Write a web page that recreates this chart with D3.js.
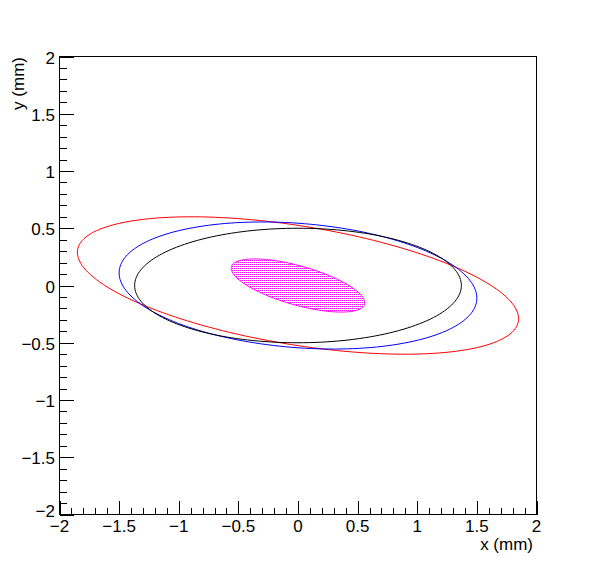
<!DOCTYPE html>
<html><head><meta charset="utf-8">
<script src="https://cdn.jsdelivr.net/npm/d3@7"></script>
<style>body{margin:0;background:#fff}svg{display:block}text{font-family:"Liberation Sans",Arial,sans-serif;fill:#000}</style>
</head><body><svg id="c" width="596" height="572"></svg>
<script>
// Ellipse contours (centred at origin): x = semiX*cos t, y = yAtXmax*cos t + b*sin t
const ellipseColors = ["#ff0000", "#0000ff", "#000000", "#ff00ff"];
const ellipseSemiX  = [1.85, 1.50, 1.37, 0.56];
const ellipseYAtXmax = [-0.29, -0.11, 0.0, -0.15];
const ellipseYmax   = [0.60, 0.555, 0.50, 0.232];
const ellipseFilled = [false, false, false, true];
const xTicks = [-2, -1.5, -1, -0.5, 0, 0.5, 1, 1.5, 2];
const yTicks = [-2, -1.5, -1, -0.5, 0, 0.5, 1, 1.5, 2];
const xTitle = "x (mm)", yTitle = "y (mm)";

const svg = d3.select("#c");
const x = d3.scaleLinear().domain([-2, 2]).range([59.5, 536.5]);
const y = d3.scaleLinear().domain([-2, 2]).range([514.5, 56.5]);

const defs = svg.append("defs");
const pat = defs.append("pattern").attr("id", "dots").attr("patternUnits", "userSpaceOnUse")
  .attr("width", 2).attr("height", 2);
pat.append("rect").attr("width", 1).attr("height", 1).attr("fill", "#ff00ff");

const ts = d3.range(0, 361, 2).map(d => d * Math.PI / 180);
const line = d3.line().x(d => x(d[0])).y(d => y(d[1]));
ellipseColors.forEach((col, i) => {
  const A = ellipseSemiX[i], C = ellipseYAtXmax[i];
  const B = Math.sqrt(Math.max(0, ellipseYmax[i] ** 2 - C * C));
  const pts = ts.map(t => [A * Math.cos(t), C * Math.cos(t) + B * Math.sin(t)]);
  svg.append("path").attr("d", line(pts) + "Z")
    .attr("fill", ellipseFilled[i] ? "url(#dots)" : "none")
    .attr("stroke", col).attr("stroke-width", 1);
});

// frame
svg.append("rect").attr("x", 59.5).attr("y", 56.5).attr("width", 477).attr("height", 458)
  .attr("fill", "none").attr("stroke", "#000").attr("stroke-width", 1).attr("shape-rendering", "crispEdges");

const fmt = v => (v < 0 ? "\u2212" : "") + Math.abs(v);
const minorX = d3.range(-20, 21).map(d => d / 10);
const minorY = d3.range(-20, 21).map(d => d / 10);
const g = svg.append("g").attr("stroke", "#000").attr("shape-rendering", "crispEdges");
minorX.forEach(v => {
  const major = Math.abs(v * 2 - Math.round(v * 2)) < 1e-6;
  g.append("line").attr("x1", Math.round(x(v)) + 0.5).attr("x2", Math.round(x(v)) + 0.5)
    .attr("y1", 514.5).attr("y2", 514.5 - (major ? 14 : 7));
});
minorY.forEach(v => {
  const major = Math.abs(v * 2 - Math.round(v * 2)) < 1e-6;
  g.append("line").attr("y1", Math.round(y(v)) + 0.5).attr("y2", Math.round(y(v)) + 0.5)
    .attr("x1", 59.5).attr("x2", 59.5 + (major ? 14 : 7));
});
xTicks.forEach(v => {
  svg.append("text").attr("x", x(v)).attr("y", 532).attr("text-anchor", "middle")
    .attr("font-size", 17).text(fmt(v));
});
yTicks.forEach(v => {
  svg.append("text").attr("x", 55).attr("y", Math.min(y(v) + 7, 517)).attr("text-anchor", "end")
    .attr("font-size", 17).text(fmt(v));
});
svg.append("text").attr("x", 533).attr("y", 549.5).attr("text-anchor", "end")
  .attr("font-size", 17).text(xTitle);
svg.append("text").attr("transform", "translate(23.5,57) rotate(-90)").attr("text-anchor", "end")
  .attr("font-size", 17).text(yTitle);
</script></body></html>
